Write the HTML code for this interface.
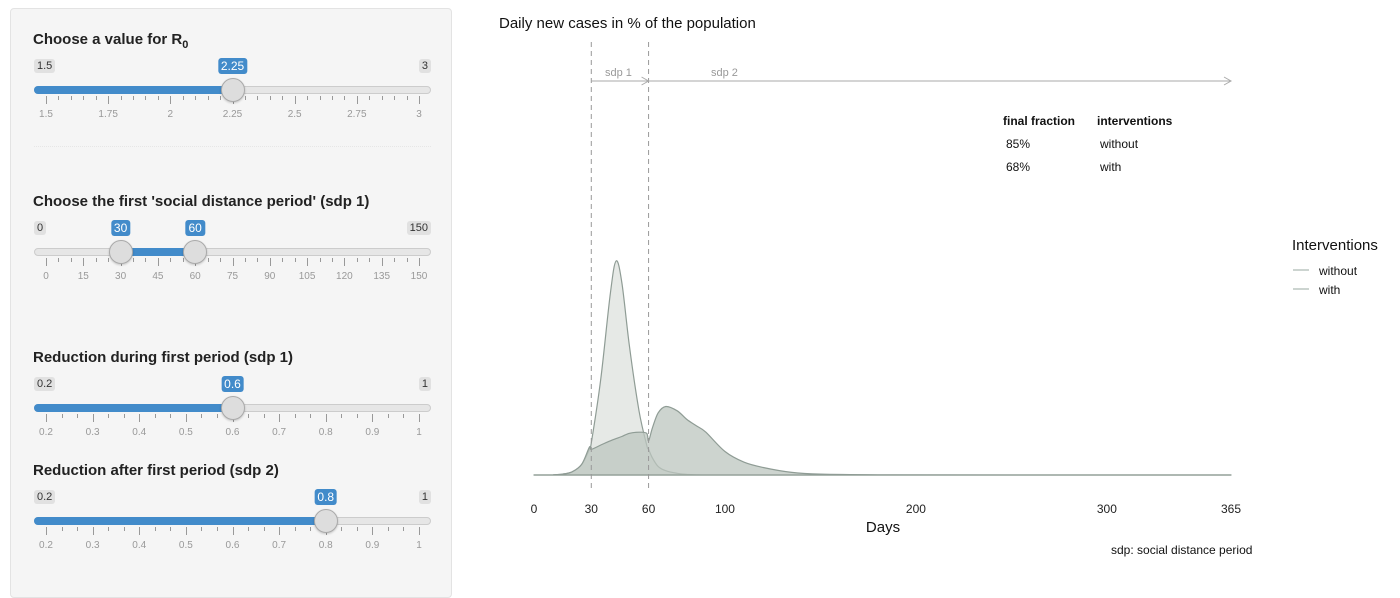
<!DOCTYPE html>
<html><head><meta charset="utf-8">
<style>
body{margin:0;width:1400px;height:581px;background:#fff;font-family:"Liberation Sans",sans-serif;position:relative;overflow:hidden}
#panel{position:absolute;left:10px;top:8px;width:442px;height:590px;background:#f5f5f5;border:1px solid #e3e3e3;border-radius:4px;box-sizing:border-box}
.title{position:absolute;left:33px;font-weight:bold;font-size:15px;color:#222}
.mm{position:absolute;font-size:11px;background:#e1e1e1;color:#333;padding:1px 3px;border-radius:3px}
.val{position:absolute;font-size:12px;background:#428bca;color:#fff;padding:1px 3px;border-radius:3px;transform:translateX(-50%)}
.track{position:absolute;left:34px;width:397px;height:8px;background:#e6e6e6;border:1px solid #ccc;border-radius:5px;box-sizing:border-box}
.bar{position:absolute;height:8px;background:#428bca;border-radius:4px}
.handle{position:absolute;width:24px;height:24px;border-radius:50%;background:#ddd;border:1px solid #aaa;box-sizing:border-box;transform:translate(-50%,-50%);box-shadow:0 1px 2px rgba(0,0,0,.2)}
.tick{position:absolute;width:1px;background:#999}
.tl{position:absolute;font-size:10px;color:#999;transform:translateX(-50%)}
</style></head><body>
<div id="panel"></div>
<svg id="chart" width="1400" height="581" style="position:absolute;left:0;top:0;pointer-events:none"></svg>
<script>
const days=[0,10,15,20,25,29,30,35,40,43,46,50,55,59,60,62,65,69,75,80,85,90,100,110,120,135,150,180,250,365];
const without=[0,0.001,0.004,0.015,0.05,0.12,0.15,0.45,0.85,1.0,0.9,0.6,0.3,0.14,0.12,0.08,0.04,0.02,0.008,0.003,0.001,0,0,0,0,0,0,0,0,0];
const withI=[0,0.001,0.004,0.015,0.05,0.13,0.12,0.14,0.16,0.17,0.18,0.195,0.2,0.195,0.16,0.22,0.29,0.32,0.3,0.26,0.23,0.2,0.11,0.06,0.035,0.012,0.004,0.001,0,0];
const xTicks=[0,30,60,100,200,300,365];
const fractions=["85%","68%"];
const seriesNames=["without","with"];

const sliders=[
 {name:"r0",title:"Choose a value for R",sub:"0",min:1.5,max:3,vals:[2.25],ticks:[1.5,1.75,2,2.25,2.5,2.75,3],minor:4,y:90,fill:"left"},
 {name:"sdp1",title:"Choose the first 'social distance period' (sdp 1)",min:0,max:150,vals:[30,60],ticks:[0,15,30,45,60,75,90,105,120,135,150],minor:2,y:252,fill:"range"},
 {name:"reduction-sdp1",title:"Reduction during first period (sdp 1)",min:0.2,max:1,vals:[0.6],ticks:[0.2,0.3,0.4,0.5,0.6,0.7,0.8,0.9,1],minor:2,y:408,fill:"left"},
 {name:"reduction-sdp2",title:"Reduction after first period (sdp 2)",min:0.2,max:1,vals:[0.8],ticks:[0.2,0.3,0.4,0.5,0.6,0.7,0.8,0.9,1],minor:2,y:521,fill:"left"}
];
const body=document.body;
function mk(cls,css,txt){const d=document.createElement('div');d.className=cls;d.style.cssText=css;if(txt!==undefined)d.textContent=txt;body.appendChild(d);return d;}
sliders.forEach(s=>{
 const sx=v=>46+(v-s.min)/(s.max-s.min)*373;
 const t=mk('title','top:'+(s.y-59)+'px',s.title);
 
 
 if(s.sub){const sb=document.createElement('sub');sb.textContent=s.sub;sb.style.fontSize='11px';t.appendChild(sb);}
 const a=mk('mm','left:34px;top:'+(s.y-31)+'px',String(s.min));
 
 
 const b=mk('mm','right:'+(1400-431)+'px;top:'+(s.y-31)+'px',String(s.max));
 
 
 const tr=mk('track','top:'+(s.y-4)+'px');
 
 
 let l0,l1;
 if(s.fill==="left"){l0=34;l1=sx(s.vals[0]);}else{l0=sx(s.vals[0]);l1=sx(s.vals[1]);}
 const br=mk('bar','left:'+l0+'px;width:'+(l1-l0)+'px;top:'+(s.y-4)+'px');
 
 
 const n=(s.ticks.length-1)*(s.minor+1);
 for(let i=0;i<=n;i++){const major=i%(s.minor+1)===0;const x=46+i*373/n;
  const tk=mk('tick','left:'+x+'px;top:'+(s.y+6)+'px;height:'+(major?8:4)+'px');
  
  }
 s.ticks.forEach(v=>{const tl=mk('tl','left:'+sx(v)+'px;top:'+(s.y+19)+'px',String(v));
  
  });
 s.vals.forEach(v=>{
  const vl=mk('val','left:'+sx(v)+'px;top:'+(s.y-32)+'px',String(v));
  
  
  const h=mk('handle','left:'+sx(v)+'px;top:'+s.y+'px');
  
  
 });
});
const sep=mk('','position:absolute;left:34px;top:146px;width:397px;border-top:1px dotted #e6e6e6');



const NS="http://www.w3.org/2000/svg";const svg=document.getElementById('chart');
function el(tag,attrs,txt){const e=document.createElementNS(NS,tag);for(const k in attrs)e.setAttribute(k,attrs[k]);if(txt!==undefined)e.textContent=txt;svg.appendChild(e);return e;}
const X=d=>534+d*(697/365);
const Y=v=>475-v*214;
const t1=el('text',{x:499,y:28,'font-size':15,fill:'#111'},'Daily new cases in % of the population');


function area(vals,fill,name){
 const pts=days.map((dd,i)=>[X(dd),Y(vals[i])]);
 let d='M'+pts[0][0]+','+pts[0][1];
 for(let i=0;i<pts.length-1;i++){
  const p0=pts[Math.max(0,i-1)],p1=pts[i],p2=pts[i+1],p3=pts[Math.min(pts.length-1,i+2)];
  const t=0.5/3;
  let c1x=p1[0]+(p2[0]-p0[0])*t,c1y=p1[1]+(p2[1]-p0[1])*t;
  let c2x=p2[0]-(p3[0]-p1[0])*t,c2y=p2[1]-(p3[1]-p1[1])*t;
  c1y=Math.min(c1y,475);c2y=Math.min(c2y,475);
  c1x=Math.min(Math.max(c1x,p1[0]),p2[0]);c2x=Math.min(Math.max(c2x,p1[0]),p2[0]);
  d+=' C'+c1x.toFixed(1)+','+c1y.toFixed(1)+' '+c2x.toFixed(1)+','+c2y.toFixed(1)+' '+p2[0].toFixed(1)+','+p2[1].toFixed(1);
 }
 d+=' L'+X(days[days.length-1])+','+Y(0)+' L'+X(days[0])+','+Y(0)+' Z';
 const p=el('path',{d:d,fill:fill,'fill-opacity':0.75,stroke:'#8f9c95','stroke-width':1.2,'stroke-linejoin':'round'});
 
 
}
area(without,'#dde1de','area-without');
area(withI,'#bcc5bf','area-with');
[30,60].forEach(d=>{const l=el('line',{x1:X(d),x2:X(d),y1:42,y2:490,stroke:'#999','stroke-dasharray':'5,4'});
 
 });
function arrow(x1,x2,name){const l=el('line',{x1:x1,x2:x2,y1:81,y2:81,stroke:'#aaa'});
 
 
 const h=el('path',{d:'M'+(x2-7)+',77 L'+x2+',81 L'+(x2-7)+',85',fill:'none',stroke:'#aaa'});
 
 }
arrow(X(30),X(60),'sdp1-arrow');arrow(X(60),X(365),'sdp2-arrow');
const a1=el('text',{x:605,y:76,'font-size':11,fill:'#999'},'sdp 1');


const a2=el('text',{x:711,y:76,'font-size':11,fill:'#999'},'sdp 2');


xTicks.forEach(t=>{const tx=el('text',{x:X(t),y:513,'font-size':12,fill:'#222','text-anchor':'middle'},String(t));
 
 });
const xt=el('text',{x:883,y:532,'font-size':15,fill:'#111','text-anchor':'middle'},'Days');


const cap=el('text',{x:1111,y:554,'font-size':12,fill:'#111'},'sdp: social distance period');


const h1=el('text',{x:1003,y:125,'font-size':12,'font-weight':'bold',fill:'#111'},'final fraction');


const h2=el('text',{x:1097,y:125,'font-size':12,'font-weight':'bold',fill:'#111'},'interventions');


fractions.forEach((f,i)=>{
 const a=el('text',{x:1006,y:148+i*23,'font-size':12,fill:'#111'},f);
 
 
 const b=el('text',{x:1100,y:148+i*23,'font-size':12,fill:'#111'},seriesNames[i]);
 
 
});
const lt=el('text',{x:1292,y:250,'font-size':15,fill:'#111'},'Interventions');


seriesNames.forEach((s,i)=>{
 const l=el('line',{x1:1293,x2:1309,y1:270+i*19,y2:270+i*19,stroke:'#9aa8a0'});
 
 
 const t=el('text',{x:1319,y:275+i*19,'font-size':12,fill:'#111'},s);
 
 
});
</script>
</body></html>
